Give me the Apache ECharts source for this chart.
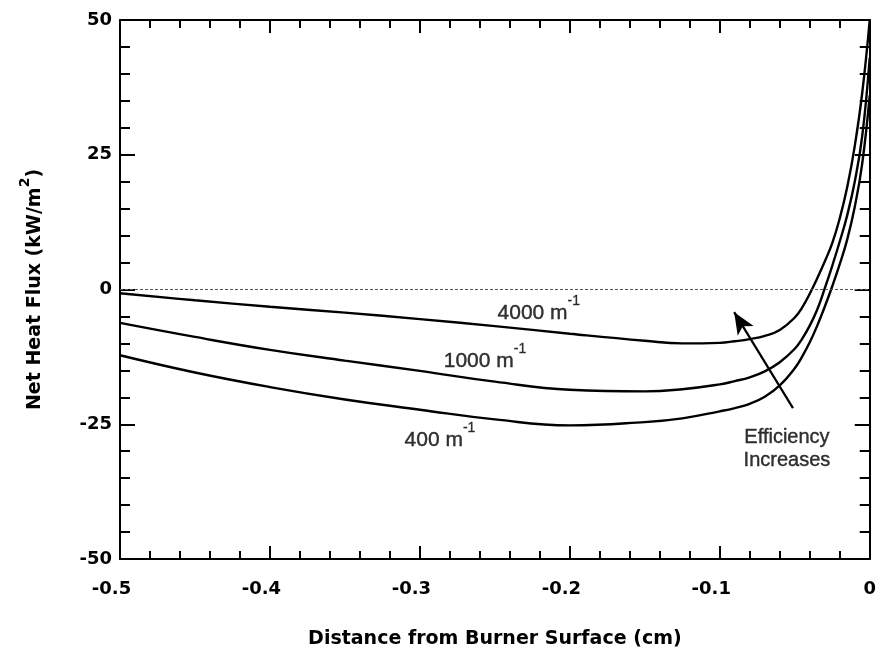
<!DOCTYPE html>
<html><head><meta charset="utf-8">
<script src="https://cdn.jsdelivr.net/npm/echarts@6/dist/echarts.min.js"></script>
<style>html,body{margin:0;padding:0;background:#fff}#c{width:879px;height:664px}</style>
</head><body><div id="c"></div>
<script>
// Distance from burner surface (cm)
const distance = [-0.5, -0.45, -0.4, -0.35, -0.3, -0.25, -0.2, -0.15, -0.125, -0.1, -0.09, -0.08, -0.07, -0.06, -0.05, -0.045, -0.04, -0.035, -0.03, -0.025, -0.02, -0.015, -0.01, -0.005, 0];
// Net heat flux (kW/m^2) for each extinction coefficient
const flux4000 = [-0.7, -2.0, -3.2, -4.3, -5.5, -6.8, -8.2, -9.5, -10.0, -9.9, -9.6, -9.2, -8.6, -7.5, -5.2, -3.3, -0.8, 2.1, 5.2, 8.6, 13.2, 19.0, 26.6, 36.5, 50.0];
const flux1000 = [-6.2, -8.8, -11.2, -13.2, -15.1, -17.1, -18.6, -18.9, -18.5, -17.6, -17.0, -16.3, -15.2, -13.5, -11.0, -9.1, -6.7, -3.7, 0.2, 4.4, 8.9, 13.8, 20.0, 28.5, 43.0];
const flux400  = [-12.2, -15.4, -18.1, -20.4, -22.3, -24.1, -25.2, -24.6, -23.9, -22.6, -22.0, -21.2, -19.9, -17.8, -14.6, -12.4, -9.8, -6.7, -3.2, 0.6, 4.7, 9.3, 15.3, 23.4, 36.0];
// Curve label texts and their anchor points (data units)
const curveNames = ['4000', '1000', '400'];
const curveLabelAt = [[-0.2207, -4.4], [-0.2566, -13.3], [-0.2866, -27.9]];
// Annotation arrow (tail -> head) and its caption
const arrowFrom = [-0.0512, -22.0];
const arrowTo = [-0.0904, -4.2];
const arrowText = 'Efficiency\nIncreases';
const arrowTextAt = [-0.0552, -29.6];
// Axis ranges
const xRange = [-0.5, 0], xStep = 0.1;
const yRange = [-50, 50], yStep = 25;

const chart = echarts.init(document.getElementById('c'), null, {renderer: 'canvas'});
const BOLD = 'DejaVu Sans';
const REG = 'Liberation Sans';
const pts = arr => distance.map((x, i) => [x, arr[i]]);

const lineSeries = (arr) => ({
  type: 'line', data: pts(arr), xAxisIndex: 0, yAxisIndex: 0,
  showSymbol: false, symbol: 'none', smooth: 0.45,
  lineStyle: {color: '#000', width: 2.4}, silent: true, animation: false, z: 3
});

const axisCommon = {
  axisLine: {show: true, onZero: false, lineStyle: {color: '#000', width: 2}},
  splitLine: {show: false}
};
const tickStyle = {color: '#000', width: 2};

const option = {
  backgroundColor: '#fff',
  animation: false,
  grid: {left: 120, right: 7, top: 20, bottom: 105, containLabel: false},
  xAxis: [
    Object.assign({}, axisCommon, {
      type: 'value', min: xRange[0], max: xRange[1], interval: xStep, position: 'bottom',
      axisTick: {show: true, inside: true, length: 13, lineStyle: tickStyle},
      minorTick: {show: true, splitNumber: 5, length: 8, lineStyle: tickStyle},
      axisLabel: {
        show: true, margin: 21, color: '#000', fontFamily: BOLD, fontWeight: 'bold', fontSize: 18,
        formatter: v => { const s = String(Math.round(v * 10) / 10); return v < 0 ? '{n|' + s + '}' : s; },
        rich: {n: {fontFamily: BOLD, fontWeight: 'bold', fontSize: 18, color: '#000', padding: [0, 17, 0, 0]}}
      },
      name: 'Distance from Burner Surface (cm)', nameLocation: 'middle', nameGap: 71,
      nameTextStyle: {color: '#000', fontFamily: BOLD, fontWeight: 'bold', fontSize: 19}
    }),
    Object.assign({}, axisCommon, {
      type: 'value', min: xRange[0], max: xRange[1], interval: xStep, position: 'top',
      axisTick: {show: true, inside: true, length: 13, lineStyle: tickStyle},
      minorTick: {show: true, splitNumber: 5, length: 8, lineStyle: tickStyle},
      axisLabel: {show: false}
    })
  ],
  yAxis: [
    Object.assign({}, axisCommon, {
      type: 'value', min: yRange[0], max: yRange[1], interval: yStep, position: 'left',
      axisTick: {show: true, inside: true, length: 15, lineStyle: tickStyle},
      minorTick: {show: true, splitNumber: 5, length: 10, lineStyle: tickStyle},
      axisLabel: {show: true, margin: 8, color: '#000', fontFamily: BOLD, fontWeight: 'bold', fontSize: 18},
      name: 'Net Heat Flux (kW/m{s|2})', nameLocation: 'middle', nameGap: 68, nameRotate: 90,
      nameTextStyle: {
        color: '#000', fontFamily: BOLD, fontWeight: 'bold', fontSize: 19,
        rich: {s: {fontFamily: BOLD, fontWeight: 'bold', fontSize: 14, color: '#000', padding: [0, 0, 20, 0]}}
      }
    }),
    Object.assign({}, axisCommon, {
      type: 'value', min: yRange[0], max: yRange[1], interval: yStep, position: 'right',
      axisTick: {show: true, inside: true, length: 15, lineStyle: tickStyle},
      minorTick: {show: true, splitNumber: 5, length: 10, lineStyle: tickStyle},
      axisLabel: {show: false}
    })
  ],
  series: [
    lineSeries(flux4000),
    lineSeries(flux1000),
    lineSeries(flux400),
    {
      type: 'scatter', xAxisIndex: 0, yAxisIndex: 0, silent: true, animation: false, z: 5,
      symbol: 'circle', symbolSize: 1, itemStyle: {color: 'transparent'},
      data: curveNames.map((n, i) => ({
        value: curveLabelAt[i],
        label: {formatter: '{b|' + n + ' m}{s|-1}'}
      })).concat([{
        value: arrowTextAt,
        label: {formatter: arrowText, fontFamily: REG, fontSize: 20, lineHeight: 23, align: 'center'}
      }]),
      label: {
        show: true, position: 'inside', align: 'center', verticalAlign: 'middle',
        color: '#000', textBorderColor: '#000', textBorderWidth: 0.4,
        fontFamily: REG, fontSize: 21,
        rich: {
          b: {fontFamily: REG, fontSize: 21, color: '#000', textBorderColor: '#000', textBorderWidth: 0.4},
          s: {fontFamily: REG, fontSize: 14, color: '#000', textBorderColor: '#000', textBorderWidth: 0.3, padding: [0, 0, 24, 0]}
        }
      },
      markLine: {
        silent: true, animation: false, symbol: ['none', 'none'],
        label: {show: false},
        emphasis: {disabled: true},
        data: [
          {yAxis: 0, lineStyle: {color: '#555', width: 1.2, type: [3, 2]}},
          [
            {coord: arrowFrom, symbol: 'none', lineStyle: {color: '#000', width: 2.2, type: 'solid'}},
            {coord: arrowTo, symbol: 'arrow', symbolSize: [14, 22]}
          ]
        ]
      }
    }
  ]
};
chart.setOption(option);
</script>
</body></html>
